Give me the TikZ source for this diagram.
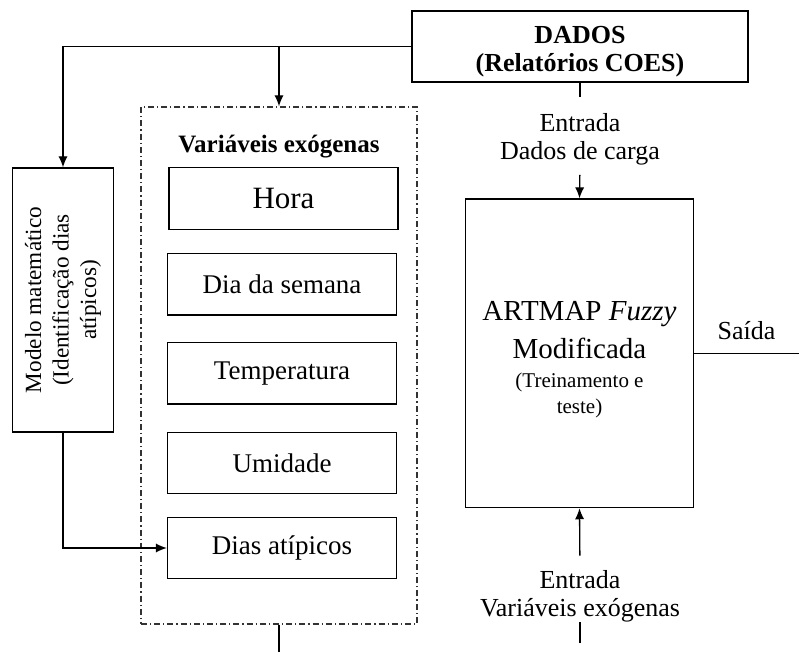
\documentclass[tikz,border=0pt]{standalone}
\usepackage{fontspec}
\setmainfont{Liberation Serif}
\usetikzlibrary{arrows.meta}

\begin{document}
\begin{tikzpicture}[x=0.5pt,y=-0.5pt,line width=0.65pt,
    >={Latex[length=5.5pt,width=4.6pt]},
    caixa/.style={draw, inner sep=0pt, minimum width=114.5pt, minimum height=30.75pt,
        font=\fontsize{13.5}{16}\selectfont},
    rotulo/.style={inner sep=0pt, align=center, font=\fontsize{13}{14}\selectfont},
    grupo/.style={draw=black!80, dash pattern=on 3pt off 1.5pt on 0.6pt off 1.5pt,
        inner sep=0pt}]
                \useasboundingbox (0,0) rectangle (799,652);
                % dados
                \node (dados) [draw, minimum width=168pt, minimum height=35.5pt, inner sep=0pt,
                    align=center, font=\bfseries\fontsize{13}{14.2}\selectfont] at (580,46.5)
                    {\rule{0pt}{13.5pt}DADOS\\(Relatórios COES)};
                % modelo matematico
                \node (modelo) [draw, minimum width=132pt, minimum height=50.3pt, inner sep=0pt,
                    rotate=90, align=center, font=\fontsize{11.6}{13.75}\selectfont] at (63,300)
                    {Modelo matemático\\(Identificação dias\\atípicos)};
                % variaveis exogenas
                \node (grupo) [grupo, minimum width=138pt, minimum height=258.5pt] at (279,365.5) {};
                \node (titulo) [font=\bfseries\fontsize{12.5}{14}\selectfont] at (279,147) {Variáveis exógenas};
                \node (hora) [caixa, font=\fontsize{15.5}{18}\selectfont] at (283.5,198.5) {Hora};
                \node (dia) [caixa] at (282,284.2) {Dia da semana};
                \node (temp) [caixa] at (282,373.2) {Temperatura};
                \node (umid) [caixa] at (282,463) {Umidade};
                \node (dias) [caixa] at (282,548) {Dias atípicos};
                % rede neural
                \node (artmap) [draw, minimum width=113.8pt, minimum height=154.3pt, inner sep=0pt,
                    align=center, font=\fontsize{14.5}{13}\selectfont] at (579.5,353.3)
                    {\rule{0pt}{16pt}ARTMAP \textit{Fuzzy}\\[4.5pt]Modificada\\[1.5pt]{\fontsize{10.5}{13}\selectfont(Treinamento e}\\{\fontsize{10.5}{13}\selectfont teste)}};
                \node (entrada1) [rotulo] at (580,139.5) {Entrada\\Dados de carga};
                \node (entrada2) [rotulo] at (580,596) {Entrada\\Variáveis exógenas};
                \coordinate (fim1) at (279,652);
                \coordinate (fim2) at (580,652);
                \coordinate (saida) at (799,353.3);
                % conexoes
                \draw [->] (dados.west) -| (modelo.east);
                \draw [->] (dados.west -| grupo.north) -- (grupo.north);
                \draw [->] (modelo.west) |- (dias.west);
                \draw (grupo.south) -- (fim1);
                \draw [shorten >=8pt] (dados.south) -- (entrada1.north);
                \draw [->, shorten <=4.5pt] (entrada1.south) -- (artmap.north);
                \draw [shorten <=4.3pt] (fim2) -- (entrada2.south);
                \draw [->, shorten <=7pt] (entrada2.north) -- (artmap.south);
                \draw (artmap.east) -- (saida)
                    node [midway, above=3pt, font=\fontsize{13}{14}\selectfont] (rotsaida) {Saída};
\end{tikzpicture}
\end{document}
